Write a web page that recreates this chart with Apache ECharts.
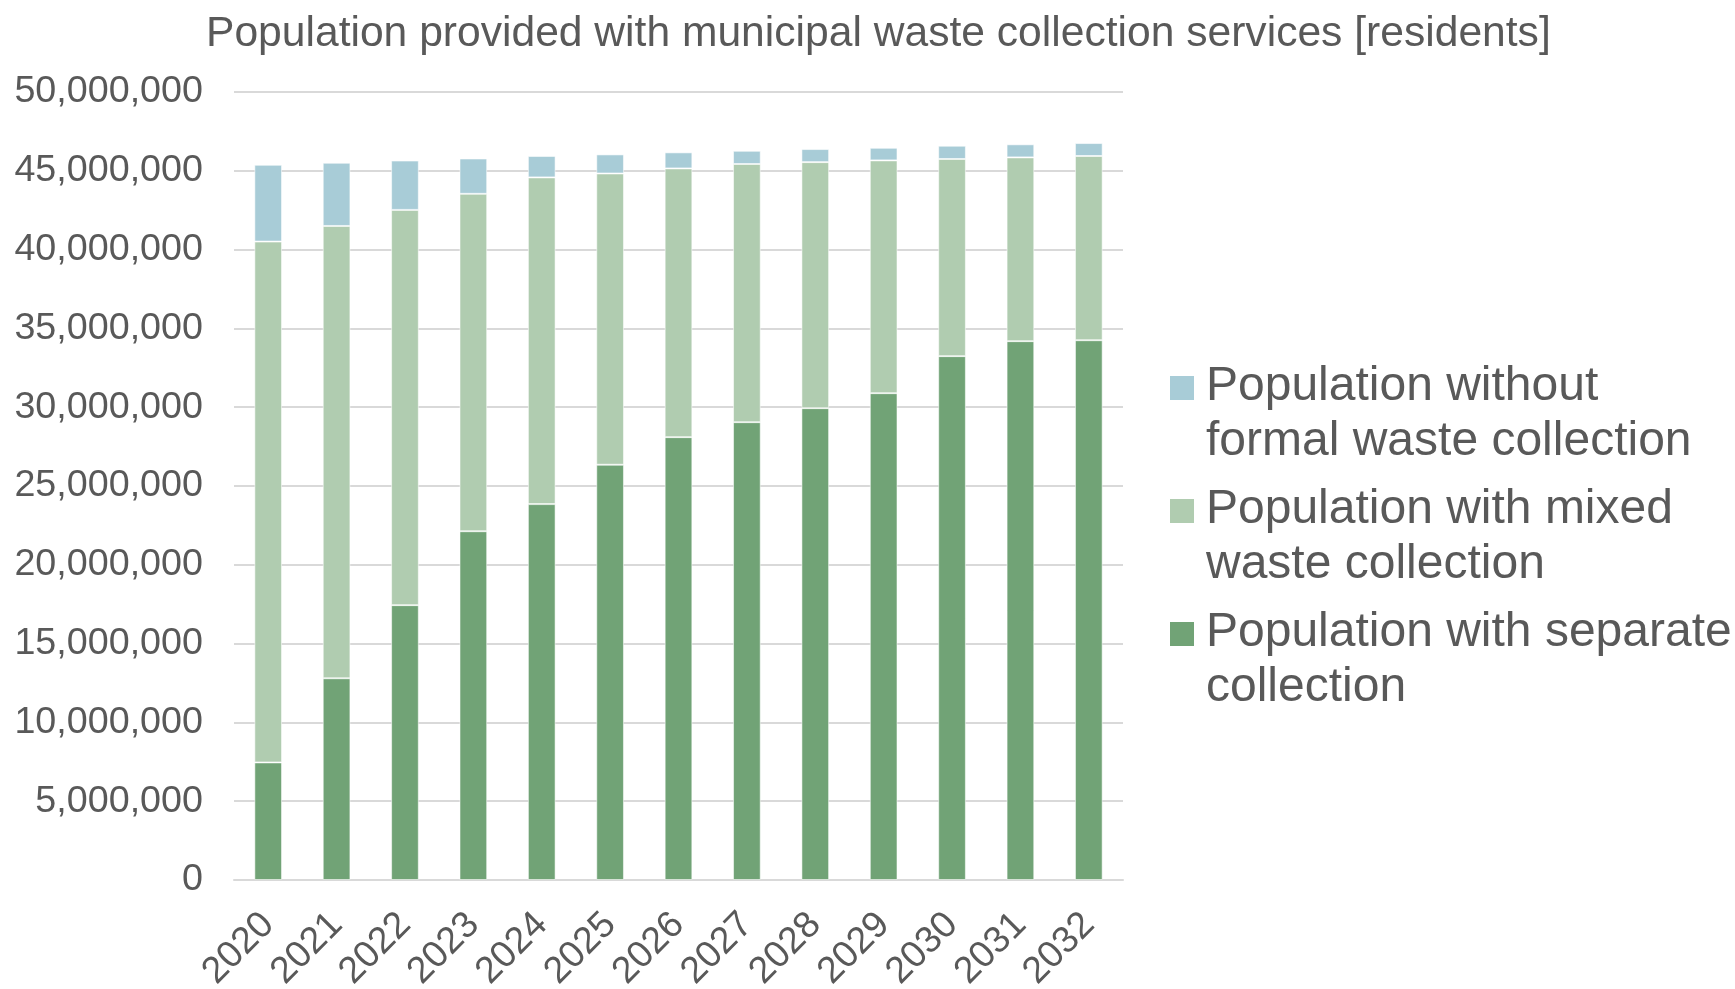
<!DOCTYPE html>
<html>
<head>
<meta charset="utf-8">
<title>Population provided with municipal waste collection services</title>
<script src="https://cdn.jsdelivr.net/npm/echarts@6/dist/echarts.min.js"></script>
<style>
  html, body { margin: 0; padding: 0; background: #ffffff; }
  #chart { width: 1735px; height: 989px; }
</style>
</head>
<body>
<div id="chart"></div>
<script>
// Years on the category axis
const years = ['2020', '2021', '2022', '2023', '2024', '2025', '2026', '2027', '2028', '2029', '2030', '2031', '2032'];

// Residents served by separate collection (bottom of each stack)
const separateCollection = [7460000, 12800000, 17440000, 22130000, 23850000, 26350000, 28100000, 29050000, 29940000, 30890000, 33240000, 34190000, 34250000];

// Residents served by mixed waste collection (middle of each stack)
const mixedCollection = [33050000, 28700000, 25080000, 21410000, 20730000, 18480000, 17050000, 16380000, 15610000, 14770000, 12510000, 11660000, 11690000];

// Residents without formal waste collection (top of each stack)
const withoutCollection = [4870000, 4010000, 3130000, 2240000, 1360000, 1210000, 1020000, 840000, 830000, 800000, 840000, 830000, 820000];

// Series names as shown in the legend
const nameWithout = 'Population without\nformal waste collection';
const nameMixed = 'Population with mixed\nwaste collection';
const nameSeparate = 'Population with separate\ncollection';

const FONT = "'Liberation Sans', Arial, sans-serif";
const TEXT = '#595959';
const GRID_LINE = '#D9D9D9';

// Legend marker: a square sitting beside the first text line, inside a taller box
const legendIcon = 'path://M0,0H0.01V0.01H0Z M0,17H24V41H0Z M30.99,109.99H31V110H30.99Z';

const chart = echarts.init(document.getElementById('chart'), null, { renderer: 'canvas' });

const barStyle = (color) => ({
  color: color,
  borderColor: 'rgba(255,255,255,0.55)',
  borderWidth: 1
});

chart.setOption({
  backgroundColor: '#ffffff',
  animation: false,
  title: {
    text: 'Population provided with municipal waste collection services [residents]',
    left: 201,
    top: 8,
    textStyle: { fontFamily: FONT, fontSize: 42.6, fontWeight: 'normal', color: TEXT }
  },
  legend: {
    orient: 'vertical',
    left: 1165,
    top: 354,
    itemGap: 13,
    itemWidth: 31,
    itemHeight: 110,
    icon: legendIcon,
    itemStyle: { borderWidth: 0 },
    data: [nameWithout, nameMixed, nameSeparate],
    textStyle: { fontFamily: FONT, fontSize: 48, lineHeight: 55, color: TEXT }
  },
  grid: { left: 234, right: 612, top: 92, bottom: 109, outerBoundsMode: 'none', containLabel: false },
  xAxis: {
    type: 'category',
    data: years,
    axisTick: { show: false },
    axisLine: { lineStyle: { color: GRID_LINE, width: 2 } },
    axisLabel: {
      interval: 0,
      rotate: 45,
      margin: 39,
      fontFamily: FONT,
      fontSize: 37.5,
      color: TEXT
    }
  },
  yAxis: {
    type: 'value',
    min: 0,
    max: 50000000,
    interval: 5000000,
    axisLine: { show: false },
    axisTick: { show: false },
    splitLine: { lineStyle: { color: GRID_LINE, width: 2 } },
    axisLabel: {
      margin: 31,
      padding: [10, 0, 0, 0],
      fontFamily: FONT,
      fontSize: 37.7,
      color: TEXT,
      formatter: (v) => v.toLocaleString('en-US')
    }
  },
  series: [
    {
      name: nameSeparate,
      type: 'bar',
      stack: 'population',
      barWidth: '40.5%',
      itemStyle: barStyle('#71A376'),
      data: separateCollection
    },
    {
      name: nameMixed,
      type: 'bar',
      stack: 'population',
      barWidth: '40.5%',
      itemStyle: barStyle('#B0CCB0'),
      data: mixedCollection
    },
    {
      name: nameWithout,
      type: 'bar',
      stack: 'population',
      barWidth: '40.5%',
      itemStyle: barStyle('#A8CCD7'),
      data: withoutCollection
    }
  ]
});
</script>
</body>
</html>
